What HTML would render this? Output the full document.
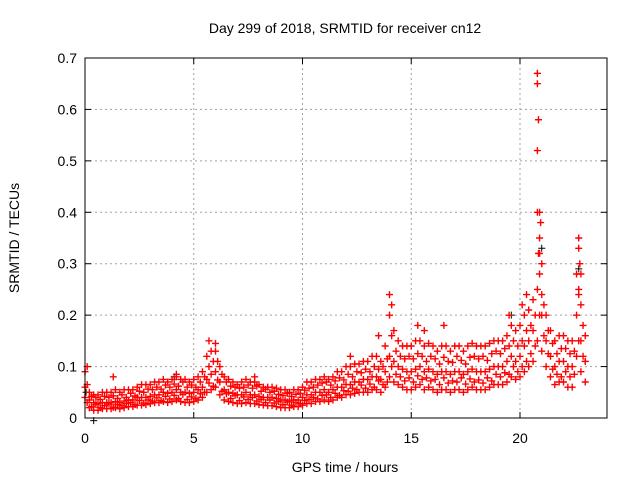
<!DOCTYPE html>
<html><head><meta charset="utf-8"><style>
body{margin:0;background:#fff}
svg{display:block;font-family:"Liberation Sans",sans-serif}
</style></head><body>
<svg id="chart" width="640" height="480" viewBox="0 0 640 480">
<rect x="0" y="0" width="640" height="480" fill="#fff"/>
<text x="345" y="33" font-size="14" text-anchor="middle">Day 299 of 2018, SRMTID for receiver cn12</text>
<text x="345" y="472" font-size="14" text-anchor="middle">GPS time / hours</text>
<text transform="translate(19,238) rotate(-90)" font-size="14" text-anchor="middle">SRMTID / TECUs</text>
<g id="grid"></g>
<g id="ticks"></g>
<g id="marks"></g>
<rect x="85" y="58" width="522" height="360" fill="none" stroke="#000" stroke-width="1"/>
</svg>
<script>
const xTicks=[0,5,10,15,20];
const yTicks=[0,0.1,0.2,0.3,0.4,0.5,0.6,0.7];
const yTickLabels=["0","0.1","0.2","0.3","0.4","0.5","0.6","0.7"];
const midVals=[.06,.035,.03,.028,.03,.03,.03,.032,.03,.033,.035,.035,.04,.04,.04,.042,.045,.045,.05,.048,.05,.055,.05,.05,.048,.05,.055,.06,.075,.085,.09,.07,.055,.05,.048,.045,.045,.05,.045,.045,.042,.04,.04,.04,.038,.035,.035,.033,.035,.035,.04,.045,.045,.05,.05,.055,.05,.055,.06,.06,.065,.065,.07,.07,.075,.075,.08,.08,.075,.09,.12,.11,.1,.095,.09,.09,.095,.1,.09,.095,.09,.085,.09,.09,.085,.09,.09,.085,.09,.095,.09,.09,.09,.095,.1,.1,.1,.11,.12,.11,.12,.14,.15,.17,.25,.2,.15,.12,.1,.11,.11,.1,.1,.2,.15,.11];
const lowVals=[.04,.02,.015,.015,.018,.018,.018,.02,.018,.02,.022,.022,.025,.025,.026,.028,.03,.03,.032,.03,.032,.035,.032,.03,.03,.032,.035,.04,.05,.055,.06,.045,.035,.032,.03,.028,.028,.03,.028,.028,.026,.025,.024,.024,.022,.02,.02,.02,.022,.022,.025,.028,.028,.032,.032,.035,.032,.035,.04,.04,.045,.045,.048,.05,.05,.05,.055,.055,.05,.06,.08,.07,.065,.06,.055,.055,.06,.065,.055,.06,.055,.05,.055,.055,.05,.055,.055,.05,.055,.06,.055,.055,.055,.06,.065,.065,.065,.07,.08,.075,.08,.09,.1,.11,.15,.13,.1,.08,.065,.07,.07,.06,.06,.12,.09,.07];
const highVals=[.09,.05,.045,.045,.05,.05,.05,.055,.05,.055,.055,.055,.06,.065,.065,.065,.07,.07,.075,.07,.075,.08,.075,.075,.07,.075,.08,.09,.12,.13,.13,.1,.08,.075,.07,.065,.07,.075,.07,.07,.065,.06,.06,.06,.058,.055,.055,.05,.055,.055,.06,.07,.07,.075,.075,.08,.075,.08,.09,.09,.1,.1,.105,.105,.11,.11,.12,.12,.11,.14,.2,.17,.15,.14,.14,.14,.15,.15,.14,.145,.14,.13,.14,.14,.13,.14,.14,.13,.14,.145,.14,.14,.14,.145,.15,.15,.15,.16,.18,.17,.18,.2,.21,.23,.4,.24,.2,.17,.15,.16,.16,.15,.15,.28,.22,.16];
const q1Vals=[.03,.022,.026,.02,.024,.027,.021,.026,.024,.028,.03,.026,.034,.029,.035,.033,.039,.034,.042,.037,.044,.038,.046,.036,.041,.038,.047,.05,.068,.062,.074,.052,.047,.038,.044,.034,.041,.036,.04,.033,.036,.03,.035,.029,.032,.026,.031,.025,.03,.028,.034,.036,.04,.037,.044,.045,.04,.048,.044,.053,.052,.058,.055,.064,.058,.066,.06,.072,.065,.07,.1,.085,.08,.072,.078,.07,.082,.075,.078,.072,.075,.065,.078,.068,.072,.07,.078,.066,.076,.07,.074,.068,.078,.072,.085,.08,.088,.085,.1,.09,.1,.11,.125,.14,.2,.16,.125,.095,.085,.08,.09,.08,.085,.15,.12];
const q3Vals=[.065,.042,.04,.036,.042,.04,.043,.038,.045,.04,.048,.043,.052,.05,.056,.055,.06,.056,.064,.06,.066,.062,.07,.06,.064,.06,.07,.08,.1,.11,.11,.085,.07,.062,.06,.058,.06,.064,.058,.062,.052,.056,.05,.052,.046,.044,.048,.042,.046,.048,.054,.058,.06,.064,.068,.07,.064,.072,.078,.074,.085,.08,.09,.088,.095,.09,.1,.095,.1,.115,.16,.13,.12,.115,.12,.115,.125,.12,.11,.12,.115,.105,.118,.11,.108,.12,.112,.105,.118,.12,.115,.12,.112,.125,.13,.125,.135,.14,.15,.14,.15,.17,.18,.2,.32,.22,.17,.145,.125,.135,.135,.125,.13,.24,.18];
const spikeT=[20.8,20.8,20.85,20.8,20.9,20.95,20.9,20.85,20.9,21.0,22.7,22.7,22.75,22.8,22.7,14.0,14.1,20.3,5.7,6.0,15.3,15.6,16.5,19.5,20.1,13.5,12.2,0.1,1.3,4.2,7.8];
const spikeV=[0.67,0.65,0.58,0.52,0.4,0.38,0.35,0.32,0.28,0.3,0.35,0.33,0.3,0.28,0.25,0.24,0.22,0.24,0.15,0.145,0.18,0.17,0.18,0.2,0.22,0.16,0.12,0.1,0.08,0.085,0.08];
const blackT=[20.8,20.85,21.0,4.1,0.4,22.7,19.6,23.0,0.05];
const blackV=[0.67,0.58,0.33,0.08,-0.005,0.29,0.2,0.11,0.05];
const times=midVals.map((_,i)=>i*0.2);
const timesHalf=q1Vals.map((_,i)=>i*0.2+0.1);

const X=t=>85+t*(522/24);
const Y=v=>418-v*(360/0.7);
const NS="http://www.w3.org/2000/svg";
const grid=document.getElementById('grid'),ticks=document.getElementById('ticks'),marks=document.getElementById('marks');
function mk(tag,attrs,parent){const e=document.createElementNS(NS,tag);for(const k in attrs)e.setAttribute(k,attrs[k]);parent.appendChild(e);return e;}
xTicks.forEach(t=>{
  const x=X(t);
  if(t>0){const g=mk('line',{x1:x,x2:x,y1:58,y2:418,stroke:'#a0a0a0','stroke-dasharray':'2,3'},grid);
  
  }
  mk('line',{x1:x,x2:x,y1:418,y2:412,stroke:'#000'},ticks);
  mk('line',{x1:x,x2:x,y1:58,y2:64,stroke:'#000'},ticks);
  const l=mk('text',{x:x,y:443,'font-size':14,'text-anchor':'middle'},ticks);l.textContent=t;
  
  
});
yTicks.forEach((v,i)=>{
  const y=Y(v);
  if(i>0&&i<yTicks.length-1){const g=mk('line',{x1:85,x2:607,y1:y,y2:y,stroke:'#a0a0a0','stroke-dasharray':'2,3'},grid);
  
  }
  mk('line',{x1:85,x2:91,y1:y,y2:y,stroke:'#000'},ticks);
  mk('line',{x1:601,x2:607,y1:y,y2:y,stroke:'#000'},ticks);
  const l=mk('text',{x:77,y:y+5,'font-size':14,'text-anchor':'end'},ticks);l.textContent=yTickLabels[i];
  
  
});
function plus(t,v,color,w){
  const x=X(t),y=Y(v);
  const p=mk('path',{d:`M${x-3.5},${y}h7M${x},${y-3.5}v7`,stroke:color,'stroke-width':w,fill:'none'},marks);
  
  
}
blackT.forEach((t,i)=>plus(t,blackV[i],'#000',1));
times.forEach((t,i)=>{plus(t,lowVals[i],'#f00',1.4);plus(t,midVals[i],'#f00',1.4);plus(t,highVals[i],'#f00',1.4);});
timesHalf.forEach((t,i)=>{plus(t,q1Vals[i],'#f00',1.4);plus(t,q3Vals[i],'#f00',1.4);});
spikeT.forEach((t,i)=>plus(t,spikeV[i],'#f00',1.4));
</script>
</body></html>
